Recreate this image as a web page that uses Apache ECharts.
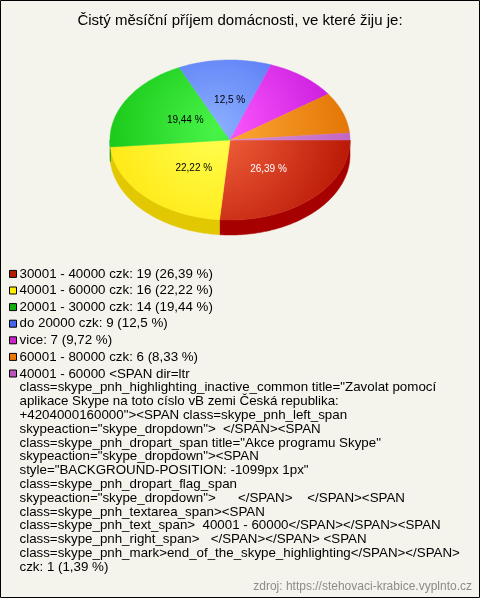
<!DOCTYPE html>
<html><head><meta charset="utf-8">
<script src="https://cdn.jsdelivr.net/npm/echarts@6/dist/echarts.min.js"></script>
<style>html,body{margin:0;padding:0;background:#f4f3ec}#c{width:480px;height:598px}</style>
</head><body><div id="c"></div>
<script>
const chartTitle = 'Čistý měsíční příjem domácnosti, ve které žiju je:';
const categories = [
  '30001 - 40000 czk',
  '40001 - 60000 czk',
  '20001 - 30000 czk',
  'do 20000 czk',
  'vice',
  '60001 - 80000 czk',
  '40001 - 60000 <SPAN dir=ltr\nclass=skype_pnh_highlighting_inactive_common title="Zavolat pomocí\naplikace Skype na toto císlo vВ zemi Česká republika:\n+4204000160000"><SPAN class=skype_pnh_left_span\nskypeaction="skype_dropdown">  </SPAN><SPAN\nclass=skype_pnh_dropart_span title="Akce programu Skype"\nskypeaction="skype_dropdown"><SPAN\nstyle="BACKGROUND-POSITION: -1099px 1px"\nclass=skype_pnh_dropart_flag_span\nskypeaction="skype_dropdown">      </SPAN>    </SPAN><SPAN\nclass=skype_pnh_textarea_span><SPAN\nclass=skype_pnh_text_span>  40001 - 60000</SPAN></SPAN><SPAN\nclass=skype_pnh_right_span>   </SPAN></SPAN> <SPAN\nclass=skype_pnh_mark>end_of_the_skype_highlighting</SPAN></SPAN>\nczk'
];
const values = [19, 16, 14, 9, 7, 6, 1];
const legendColors = ['#b81c00', '#ffee00', '#10b010', '#4466ee', '#cc22cc', '#ee7700', '#bb55bb'];
const lightColors = ['#f4643e', '#ffff50', '#48f448', '#8cb0ff', '#ff5cff', '#ffac38', '#dc98dc'];
const darkColors = ['#b41200', '#ffe000', '#08b808', '#3f5ff0', '#c010d8', '#e07000', '#c060c0'];
const sideColors = ['#a60000', '#e2c800', '#0a960a', '#2f48c0', '#9a0aae', '#b45800', '#9a4a9a'];
const sourceText = 'zdroj: https://stehovaci-krabice.vyplnto.cz';

const FONT = '"Liberation Sans", Arial, sans-serif';
const total = values.reduce((a, b) => a + b, 0);
function pct(v) { return (Math.round(v / total * 10000) / 100).toString().replace('.', ','); }

const cx = 230, cy = 140, rx = 120, ry = 80, depth = 15;
const starts = [];
{ let acc = 0; values.forEach(v => { starts.push(acc / total * 2 * Math.PI); acc += v; }); }
function pt(a, dy) { return [cx + rx * Math.cos(a), cy + ry * Math.sin(a) + (dy || 0)]; }
function arcPts(a0, a1, dy) {
  const n = Math.max(2, Math.ceil((a1 - a0) / 0.02));
  const out = [];
  for (let k = 0; k <= n; k++) out.push(pt(a0 + (a1 - a0) * k / n, dy));
  return out;
}

const chart = echarts.init(document.getElementById('c'), null, { renderer: 'canvas' });

function legendFormatter(name) {
  const i = categories.indexOf(name);
  return name + ': ' + values[i] + ' (' + pct(values[i]) + ' %)';
}
const LH = 13.8;
const lastLines = (categories[6] + ': x').split('\n').length;
const tallH = lastLines * LH;
const tallIcon = 'path://M0 0L0 0M0 3H7V10H0ZM0 ' + tallH + 'L0 ' + tallH;

const legendText = { fontSize: 13.33, fontFamily: FONT, color: '#000', lineHeight: LH, padding: [0, 0, 0, -2] };

chart.setOption({
  animation: false,
  backgroundColor: '#f4f3ec',
  title: [
    { text: chartTitle, left: 'center', top: 13, padding: 0,
      textStyle: { fontSize: 15, fontWeight: 'normal', color: '#000', fontFamily: FONT } },
    { text: sourceText, right: 8, bottom: 5, padding: 0,
      textStyle: { fontSize: 12, fontWeight: 'normal', color: '#8c8c8c', fontFamily: FONT } }
  ],
  legend: [
    { orient: 'vertical', left: 9, top: 267, padding: 0, itemWidth: 7, itemHeight: 7, itemGap: 2.8,
      icon: 'rect', selectedMode: false, data: categories.slice(0, 6), formatter: legendFormatter,
      textStyle: legendText, itemStyle: { borderColor: '#000', borderWidth: 1 } },
    { orient: 'vertical', left: 9, top: 366.5, padding: 0, itemWidth: 7, itemHeight: tallH, itemGap: 0,
      icon: tallIcon, selectedMode: false, data: categories.slice(6), formatter: legendFormatter,
      textStyle: legendText, itemStyle: { borderColor: '#000', borderWidth: 1 } }
  ],
  graphic: [
    { type: 'rect', silent: true, z: 100, shape: { x: 0.5, y: 0.5, width: 479, height: 597 },
      style: { fill: null, stroke: '#000', lineWidth: 1 } }
  ],
  series: [
    { type: 'pie', name: 'legend', radius: 0, center: [-100, -100], silent: true,
      label: { show: false }, labelLine: { show: false },
      data: categories.map((n, i) => ({ name: n, value: values[i], itemStyle: { color: legendColors[i] } })) },
    { type: 'custom', name: 'pie3d', coordinateSystem: 'none', silent: true,
      data: values.map((v, i) => ({ value: v, name: 'slice' + i })),
      renderItem: function (params, api) {
        const i = params.dataIndex;
        const v = api.value(0);
        const a0 = starts[i], a1 = a0 + v / total * 2 * Math.PI;
        const children = [];
        const s0 = Math.max(a0, 0), s1 = Math.min(a1, Math.PI);
        if (s1 > s0) {
          const top = arcPts(s0, s1, 0);
          const bot = arcPts(s0, s1, depth).reverse();
          children.push({ type: 'polygon', z2: 1, shape: { points: top.concat(bot) },
            style: { fill: sideColors[i], stroke: sideColors[i], lineWidth: 0.5 } });
        }
        const grad = new echarts.graphic.RadialGradient(cx - 15, cy - 10, 150,
          [{ offset: 0, color: lightColors[i] }, { offset: 1, color: darkColors[i] }], true);
        children.push({ type: 'polygon', z2: 5, shape: { points: [[cx, cy]].concat(arcPts(a0, a1, 0)) },
          style: { fill: grad, stroke: grad, lineWidth: 0.5 } });
        if (v / total > 0.1) {
          const m = (a0 + a1) / 2;
          children.push({ type: 'text', z2: 10, style: {
            text: pct(v) + ' %', x: cx + 2 + rx * 0.45 * Math.cos(m), y: cy + ry * 0.5 * Math.sin(m),
            fill: i === 0 ? '#fff' : '#000', font: '10px ' + FONT, align: 'center', verticalAlign: 'middle' } });
        }
        return { type: 'group', children: children };
      } }
  ]
});
</script></body></html>
